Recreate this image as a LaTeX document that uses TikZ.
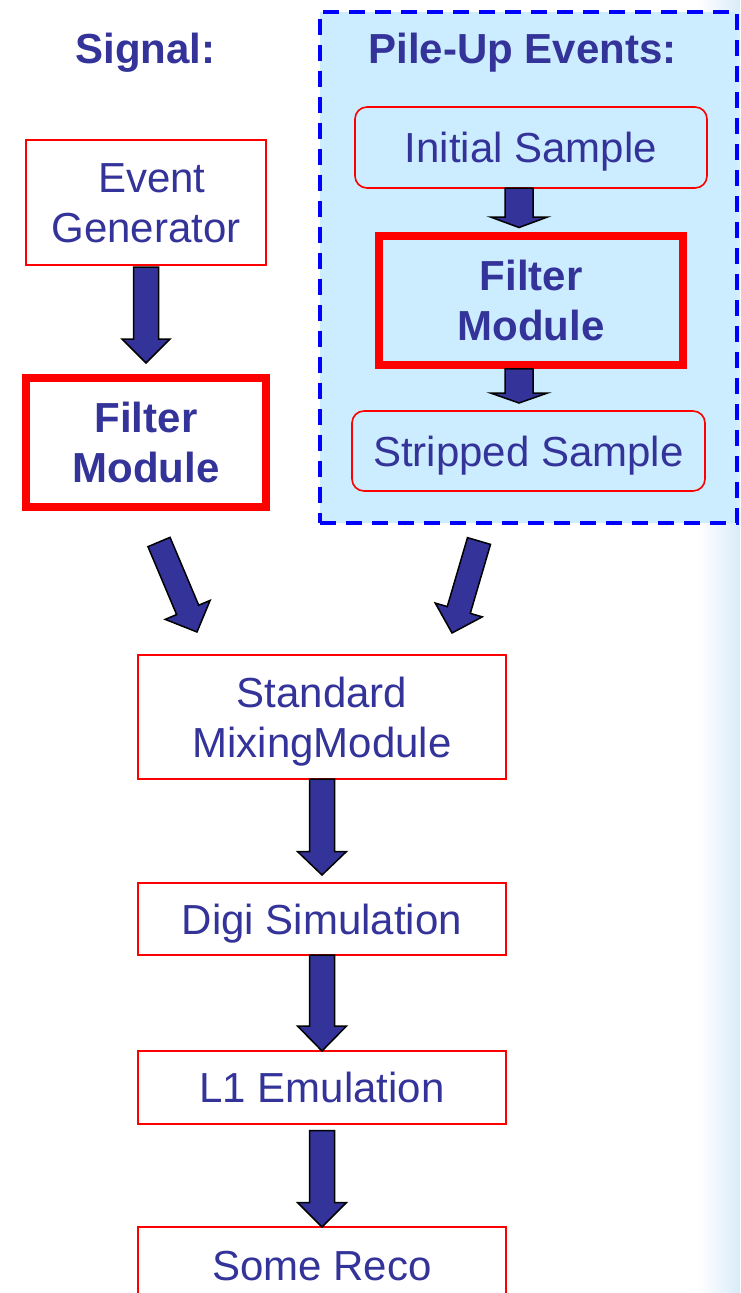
\documentclass[tikz,border=0pt]{standalone}
\usepackage{fontspec}
\setmainfont{Liberation Sans}
\usetikzlibrary{calc}
\definecolor{txtblue}{RGB}{51,51,153}
\definecolor{boxred}{RGB}{255,0,0}
\definecolor{dashblue}{RGB}{0,0,255}
\definecolor{pilefill}{RGB}{204,236,255}
\definecolor{edgeblue}{RGB}{218,235,250}
% #1 start, #2 tip, #3 half shaft width, #4 half head width, #5 head length
\newcommand\blockarrow[5]{%
  \draw[blockarrowstyle] let \p1=(#1), \p2=(#2),
     \n1={atan2(\y2-\y1,\x2-\x1)}, \n2={veclen(\x2-\x1,\y2-\y1)} in
     [shift={(\p1)}, rotate=\n1]
     (0,#3) -- ({\n2-#5},#3) -- ({\n2-#5},#4) -- (\n2,0) --
     ({\n2-#5},-#4) -- ({\n2-#5},-#3) -- (0,-#3) -- cycle;}
\begin{document}
\begin{tikzpicture}[x=1pt,y=-1pt,
  every node/.style={outer sep=0pt, inner sep=0pt, text=txtblue,
     font=\fontsize{42}{50}\selectfont, align=center},
  onel/.style={text height=30pt, text depth=0pt},
  twol/.style={text height=80pt, text depth=0pt},
  thinbox/.style={draw=boxred, line width=2pt, fill=white},
  roundbox/.style={draw=boxred, line width=1.6pt, fill=pilefill, rounded corners=12pt},
  thickbox/.style={draw=boxred, line width=7.5pt, font=\bfseries\fontsize{42}{50}\selectfont},
  titletext/.style={onel, font=\bfseries\fontsize{42}{50}\selectfont},
  pilebox/.style={draw=dashblue, line width=4pt, dash pattern=on 16pt off 10pt, fill=pilefill},
  blockarrowstyle/.style={fill=txtblue, draw=black, line width=1.5pt, line join=miter}]
\fill[white] (0,0) rectangle (740,1293);
\useasboundingbox (0,0) rectangle (740,1293);
\fill[left color=white, right color=edgeblue] (698,0) rectangle (740,1293);

% pile-up frame
\node[pilebox, minimum width=417pt, minimum height=511pt] (pile) at (528.5,267.5) {};

% titles
\node[titletext] (sigtitle) at (145.5,48) {Signal:};
\node[titletext] (putitle) at (522.5,48) {Pile-Up Events:};

% signal column
\node[thinbox, twol, minimum width=240pt, minimum height=125pt] (eg) at (146,202) {\hspace*{0.28em}Event\\Generator};
\node[thickbox, twol, fill=white, minimum width=240pt, minimum height=129pt] (sfm) at (146,442.5) {Filter\\Module};

% pile-up column
\node[roundbox, onel, minimum width=352pt, minimum height=81pt] (init) at (531,147.5) {Initial Sample};
\node[thickbox, twol, fill=pilefill, minimum width=304pt, minimum height=129pt] (pfm) at (531,300.5) {Filter\\Module};
\node[roundbox, onel, minimum width=353pt, minimum height=80pt] (strip) at (528.5,451) {Stripped Sample};

% main chain
\node[thinbox, twol, minimum width=368pt, minimum height=124pt] (mix) at (322,717) {Standard\\MixingModule};
\node[thinbox, onel, minimum width=368pt, minimum height=72pt] (digi) at (322,919) {Digi Simulation};
\node[thinbox, onel, minimum width=368pt, minimum height=73pt] (l1) at (322,1087.5) {L1 Emulation};
\node[thinbox, onel, minimum width=368pt, minimum height=76pt] (reco) at (322,1265) {Some Reco};

% arrows
\blockarrow{$(eg.south)+(0,2.5)$}{$(sfm.north)+(0,-15)$}{12.5}{24}{24}
\blockarrow{$(init.south)+(-12,0)$}{$(pfm.north)+(-12,-8.5)$}{14}{28.5}{10.5}
\blockarrow{$(pfm.south)+(-12,3.75)$}{$(strip.north)+(-9.5,-8)$}{14}{28.5}{10}
\blockarrow{$(sfm.south)+(13,35)$}{$(mix.north)+(-125,-23)$}{12}{24.4}{24}
\blockarrow{$(pile.south)+(-49.5,18)$}{$(mix.north)+(130,-22)$}{12}{24.5}{24}
\blockarrow{$(mix.south)$}{$(digi.north)+(0,-8)$}{12.5}{24.5}{23.5}
\blockarrow{$(digi.south)$}{$(l1.north)$}{12.5}{24.5}{25}
\blockarrow{$(l1.south)+(0,6.5)$}{$(reco.north)$}{12.5}{24.5}{24.5}
\end{tikzpicture}
\end{document}
